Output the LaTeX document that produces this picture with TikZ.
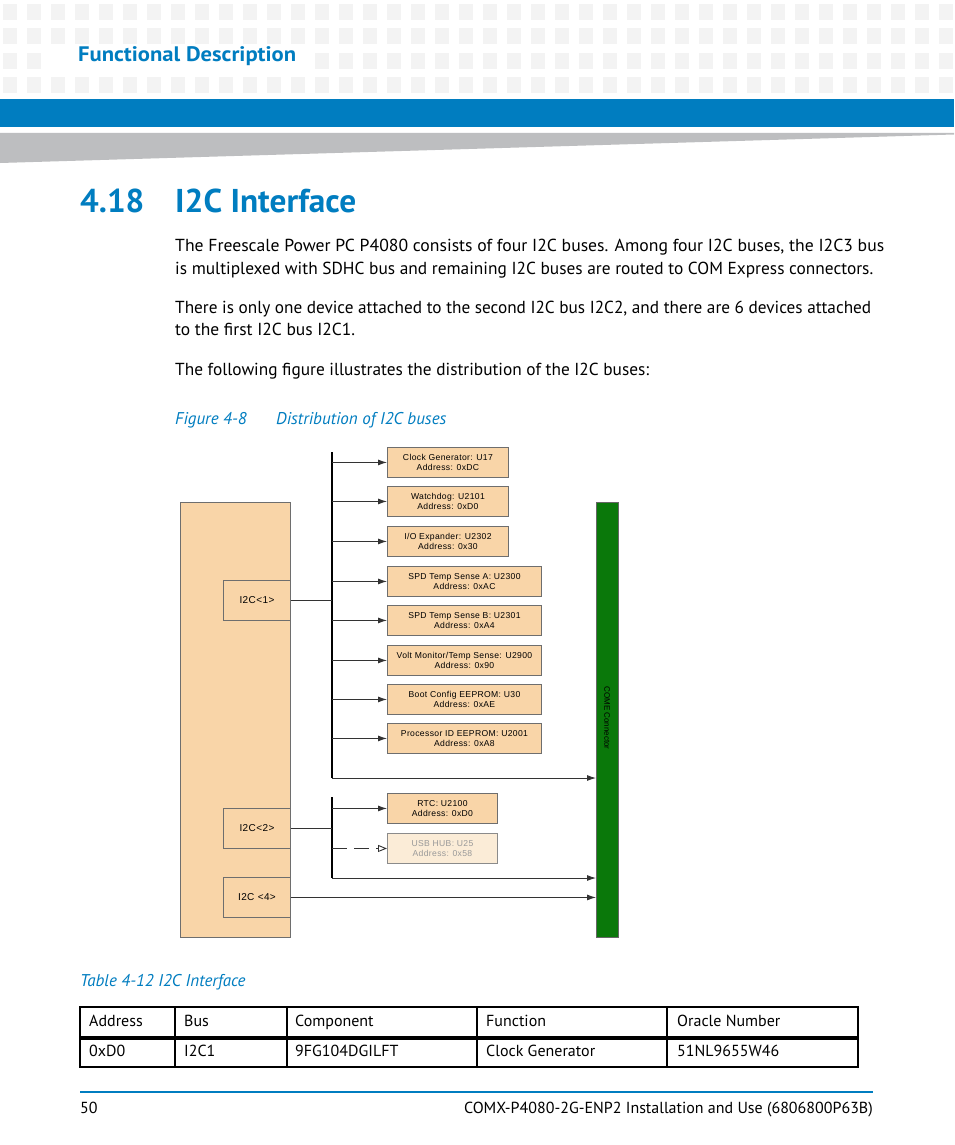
\documentclass[tikz,border=0pt]{standalone}
\usepackage{fontspec}
\setmainfont{PT Sans}
\newfontfamily\arialf{Liberation Sans}
\newfontfamily\arialsp{Liberation Sans}[LetterSpace=4]
\usetikzlibrary{arrows.meta,calc}
\definecolor{eblue}{RGB}{0,125,192}
\definecolor{peach}{RGB}{249,213,168}
\definecolor{peachlt}{RGB}{251,236,215}
\definecolor{cgreen}{RGB}{10,120,10}
\definecolor{sqgray}{RGB}{243,243,243}
\definecolor{wedgegray}{RGB}{189,190,192}
\definecolor{boxline}{RGB}{110,110,110}
\tikzset{
  bodytext/.style={anchor=base west, inner sep=0, font=\fontsize{17.4}{20}\selectfont},
  captext/.style={anchor=base west, inner sep=0, text=eblue, font=\itshape\fontsize{17}{20}\selectfont},
  celltext/.style={anchor=base west, inner sep=0, font=\fontsize{16}{19}\selectfont},
  dev/.style={draw=boxline, fill=peach, line width=0.9pt, inner sep=0, anchor=north west,
    minimum height=30pt, align=center, font=\arialsp\fontsize{8.6}{10.5}\selectfont},
  busbox/.style={draw=boxline, fill=peach, line width=0.9pt, inner sep=0, anchor=north west,
    minimum width=67pt, minimum height=40pt, font=\arialsp\fontsize{10}{11}\selectfont},
  wire/.style={line width=0.9pt, draw=black!80},
  arr/.style={wire, -{Latex[length=9pt,width=6pt]}},
  bus/.style={line width=2.6pt, draw=black},
}
\begin{document}
\begin{tikzpicture}[x=1pt,y=-1pt]
\useasboundingbox (0,0) rectangle (954,1145);
\fill[white] (0,0) rectangle (954,1145);
% header squares
\foreach \i in {0,...,39} {
  \foreach \j in {0,...,3} {
    \fill[sqgray] ({3+24*\i},{4+24.3*\j}) rectangle +(14,16);
  }
}
\fill[white] (48,50) rectangle (312,72);
\node[anchor=base west, inner sep=0, text=eblue, font=\bfseries\fontsize{21}{21}\selectfont] (hdr) at (78,62) {\resizebox{218pt}{\height}{Functional Description}};
% blue bar and wedge
\fill[eblue] (0,99) rectangle (954,127);
\fill[wedgegray] (0,133) -- (954,133) -- (954,134.5) -- (0,163) -- cycle;
% heading
\node[anchor=base west, inner sep=0, text=eblue, font=\bfseries\fontsize{33}{33}\selectfont] (secnum) at (80,212) {4.18};
\node[anchor=base west, inner sep=0, text=eblue, font=\bfseries\fontsize{33}{33}\selectfont] (sectitle) at (175,212) {\resizebox{181pt}{\height}{I2C Interface}};
% body
\node[bodytext] (l1) at (175,251) {\resizebox{709pt}{\height}{The Freescale Power PC P4080 consists of four I2C buses. Among four I2C buses, the I2C3 bus}};
\node[bodytext] (l2) at (175,274) {\resizebox{698pt}{\height}{is multiplexed with SDHC bus and remaining I2C buses are routed to COM Express connectors.}};
\node[bodytext] (l3) at (175,313) {\resizebox{696pt}{\height}{There is only one device attached to the second I2C bus I2C2, and there are 6 devices attached}};
\node[bodytext] (l4) at (175,335) {\resizebox{180pt}{\height}{to the first I2C bus I2C1.}};
\node[bodytext] (l5) at (175,375) {\resizebox{474pt}{\height}{The following figure illustrates the distribution of the I2C buses:}};
\node[captext] (fignum) at (175,424) {Figure 4-8};
\node[captext] (figtitle) at (276,424) {Distribution of I2C buses};

% ---------- diagram ----------
\node[draw=boxline, fill=peach, line width=0.9pt, anchor=north west, inner sep=0,
  minimum width=110pt, minimum height=435pt] (cpu) at (180,502) {};
\node[busbox] (i2c1) at (223,580) {I2C<1>};
\node[busbox] (i2c2) at (223,808) {I2C<2>};
\node[busbox] (i2c4) at (223,877) {I2C\,\,<4>};
\node[draw=black!60, fill=cgreen, line width=0.9pt, anchor=north west, inner sep=0,
  minimum width=22pt, minimum height=435pt] (conn) at (596,502) {};
\node[rotate=-90, inner sep=0, font=\arialf\fontsize{8}{8}\selectfont] (connlbl) at (607,718) {COME Connector};

\node[dev, minimum width=121pt] (clk) at (387,447) {Clock Generator: U17\\Address: 0xDC};
\node[dev, minimum width=121pt] (wdg) at (387,486) {Watchdog: U2101\\Address: 0xD0};
\node[dev, minimum width=121pt] (iox) at (387,526) {I/O Expander: U2302\\Address: 0x30};
\node[dev, minimum width=154pt] (spda) at (387,566) {SPD Temp Sense A: U2300\\Address: 0xAC};
\node[dev, minimum width=154pt] (spdb) at (387,605) {SPD Temp Sense B: U2301\\Address: 0xA4};
\node[dev, minimum width=154pt] (volt) at (387,645) {Volt Monitor/Temp Sense: U2900\\Address: 0x90};
\node[dev, minimum width=154pt] (boot) at (387,684) {Boot Config EEPROM: U30\\Address: 0xAE};
\node[dev, minimum width=154pt] (proc) at (387,723) {Processor ID EEPROM: U2001\\Address: 0xA8};
\node[dev, minimum width=110pt] (rtc) at (387,793) {RTC: U2100\\Address: 0xD0};
\node[dev, minimum width=110pt, fill=peachlt, draw=boxline!80, text=black!40] (usb) at (387,833) {USB HUB: U25\\Address: 0x58};

% bus 1
\coordinate (b1top) at (332,452);
\coordinate (b1bot) at (332,778);
\draw[bus] (b1top) -- (b1bot);
\draw[wire] (i2c1.east) -- (i2c1.east -| b1top);
\foreach \d in {clk,wdg,iox,spda,spdb,volt,boot,proc} {
  \draw[arr] (b1top |- \d.west) -- (\d.west);
}
\draw[arr] (b1bot) -- (b1bot -| conn.west);
% bus 2
\coordinate (b2top) at (332,797);
\coordinate (b2bot) at (332,878);
\draw[bus] (b2top) -- (b2bot);
\draw[wire] (i2c2.east) -- (i2c2.east -| b2top);
\draw[arr] (b2top |- rtc.west) -- (rtc.west);
\draw[wire, dash pattern=on 15pt off 7pt, -{Triangle[open,length=9pt,width=7pt]}] (b2top |- usb.west) -- (usb.west);
\draw[arr] (b2bot) -- (b2bot -| conn.west);
% bus 4
\draw[arr] (i2c4.east) -- (i2c4.east -| conn.west);

% ---------- table ----------
\node[captext] (tabcap) at (80,986) {Table 4-12 I2C Interface};
\draw[line width=2pt] (80,1007) -- (858,1007);
\draw[line width=3.5pt] (80,1038) -- (858,1038);
\draw[line width=1.5pt] (80,1067) -- (858,1067);
\foreach \x in {80,175,287,477,667,858} {
  \draw[line width=1.3pt] (\x,1006) -- (\x,1068);
}
\node[celltext] (h1) at (89,1026) {Address};
\node[celltext] (h2) at (184,1026) {Bus};
\node[celltext] (h3) at (295,1026) {Component};
\node[celltext] (h4) at (486,1026) {Function};
\node[celltext] (h5) at (677,1026) {Oracle Number};
\node[celltext] (c1) at (89,1056) {0xD0};
\node[celltext] (c2) at (184,1056) {I2C1};
\node[celltext] (c3) at (295,1056) {9FG104DGILFT};
\node[celltext] (c4) at (486,1056) {Clock Generator};
\node[celltext] (c5) at (677,1056) {51NL9655W46};

% ---------- footer ----------
\draw[eblue, line width=2pt] (80,1092) -- (873,1092);
\node[celltext] (pgno) at (80,1113) {50};
\node[celltext, anchor=base east] (doc) at (873,1113) {COMX-P4080-2G-ENP2 Installation and Use (6806800P63B)};
\end{tikzpicture}
\end{document}
